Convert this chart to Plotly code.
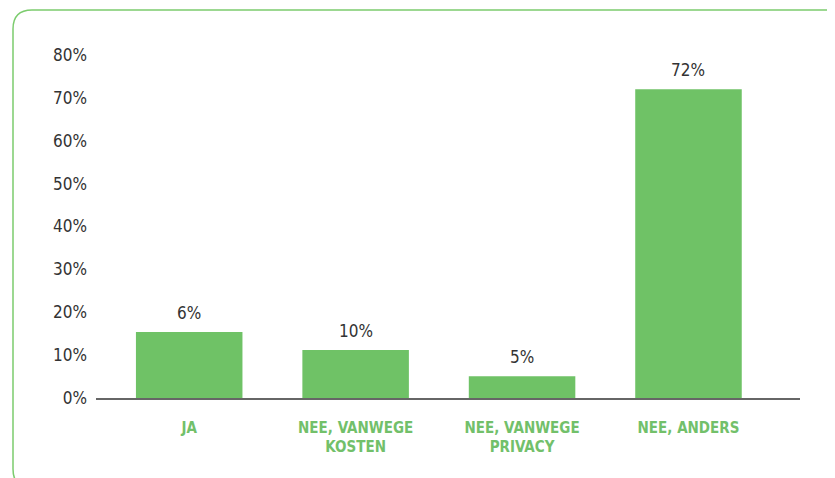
import plotly.graph_objects as go

categories = ["JA", "NEE, VANWEGE<br>KOSTEN", "NEE, VANWEGE<br>PRIVACY", "NEE, ANDERS"]
bar_heights = [15.4, 11.2, 5.1, 72.0]
bar_labels = ["6%", "10%", "5%", "72%"]
y_ticks = [0, 10, 20, 30, 40, 50, 60, 70, 80]

OFF = 8  # page body margin
W, H = 835 - OFF, 478 - OFF
L, T = 96 - OFF, 55 - OFF
# plot area in screen coords: x 96..800, y 55..398
R = W - (800 - OFF)
B = H - (398 - OFF)
pw, ph = W - L - R, H - T - B

def px(x):
    return (x - OFF - L) / pw

def py(y):
    return (H - B - (y - OFF)) / ph

FONT = "DejaVu Sans Condensed, Open Sans, sans-serif"
GREEN = "#6fc266"

fig = go.Figure(go.Bar(
    x=list(range(len(categories))),
    y=bar_heights,
    marker=dict(color=GREEN, line=dict(width=0)),
    width=0.64,
    hoverinfo="skip",
))

for i, (h, lab) in enumerate(zip(bar_heights, bar_labels)):
    fig.add_annotation(x=i, y=h, text=lab, showarrow=False, yanchor="bottom",
                       yshift=7, font=dict(family=FONT, size=17, color="#333333"))

# rounded border
x0, y0, x1, y1, r = 13, 10, 860, 488, 19
path = (f"M {px(x0)},{py(y1 - r)} L {px(x0)},{py(y0 + r)} "
        f"Q {px(x0)},{py(y0)} {px(x0 + r)},{py(y0)} L {px(x1)},{py(y0)} "
        f"M {px(x0)},{py(y1 - r)} Q {px(x0)},{py(y1)} {px(x0 + r)},{py(y1)}")
fig.add_shape(type="path", path=path, xref="paper", yref="paper",
              line=dict(color="#7ccc6e", width=1.5), layer="below")

fig.update_layout(
    width=W, height=H,
    margin=dict(l=L, r=R, t=T, b=B),
    paper_bgcolor="white", plot_bgcolor="white",
    showlegend=False,
    xaxis=dict(
        tickmode="array", tickvals=list(range(len(categories))), ticktext=categories,
        range=[-0.56, 3.67],
        showline=True, linecolor="#666666", linewidth=1.5,
        showgrid=False, zeroline=False, ticks="",
        ticklabelstandoff=15,
        tickfont=dict(family=FONT, size=15, color="#72c06a", weight="bold"),
    ),
    yaxis=dict(
        range=[0, 80], tickmode="array", tickvals=y_ticks,
        ticktext=[f"{v}%" for v in y_ticks],
        showgrid=False, zeroline=False, showline=False, ticks="",
        ticklabelstandoff=8,
        tickfont=dict(family=FONT, size=17, color="#333333"),
    ),
)

fig.write_html("out.html")
